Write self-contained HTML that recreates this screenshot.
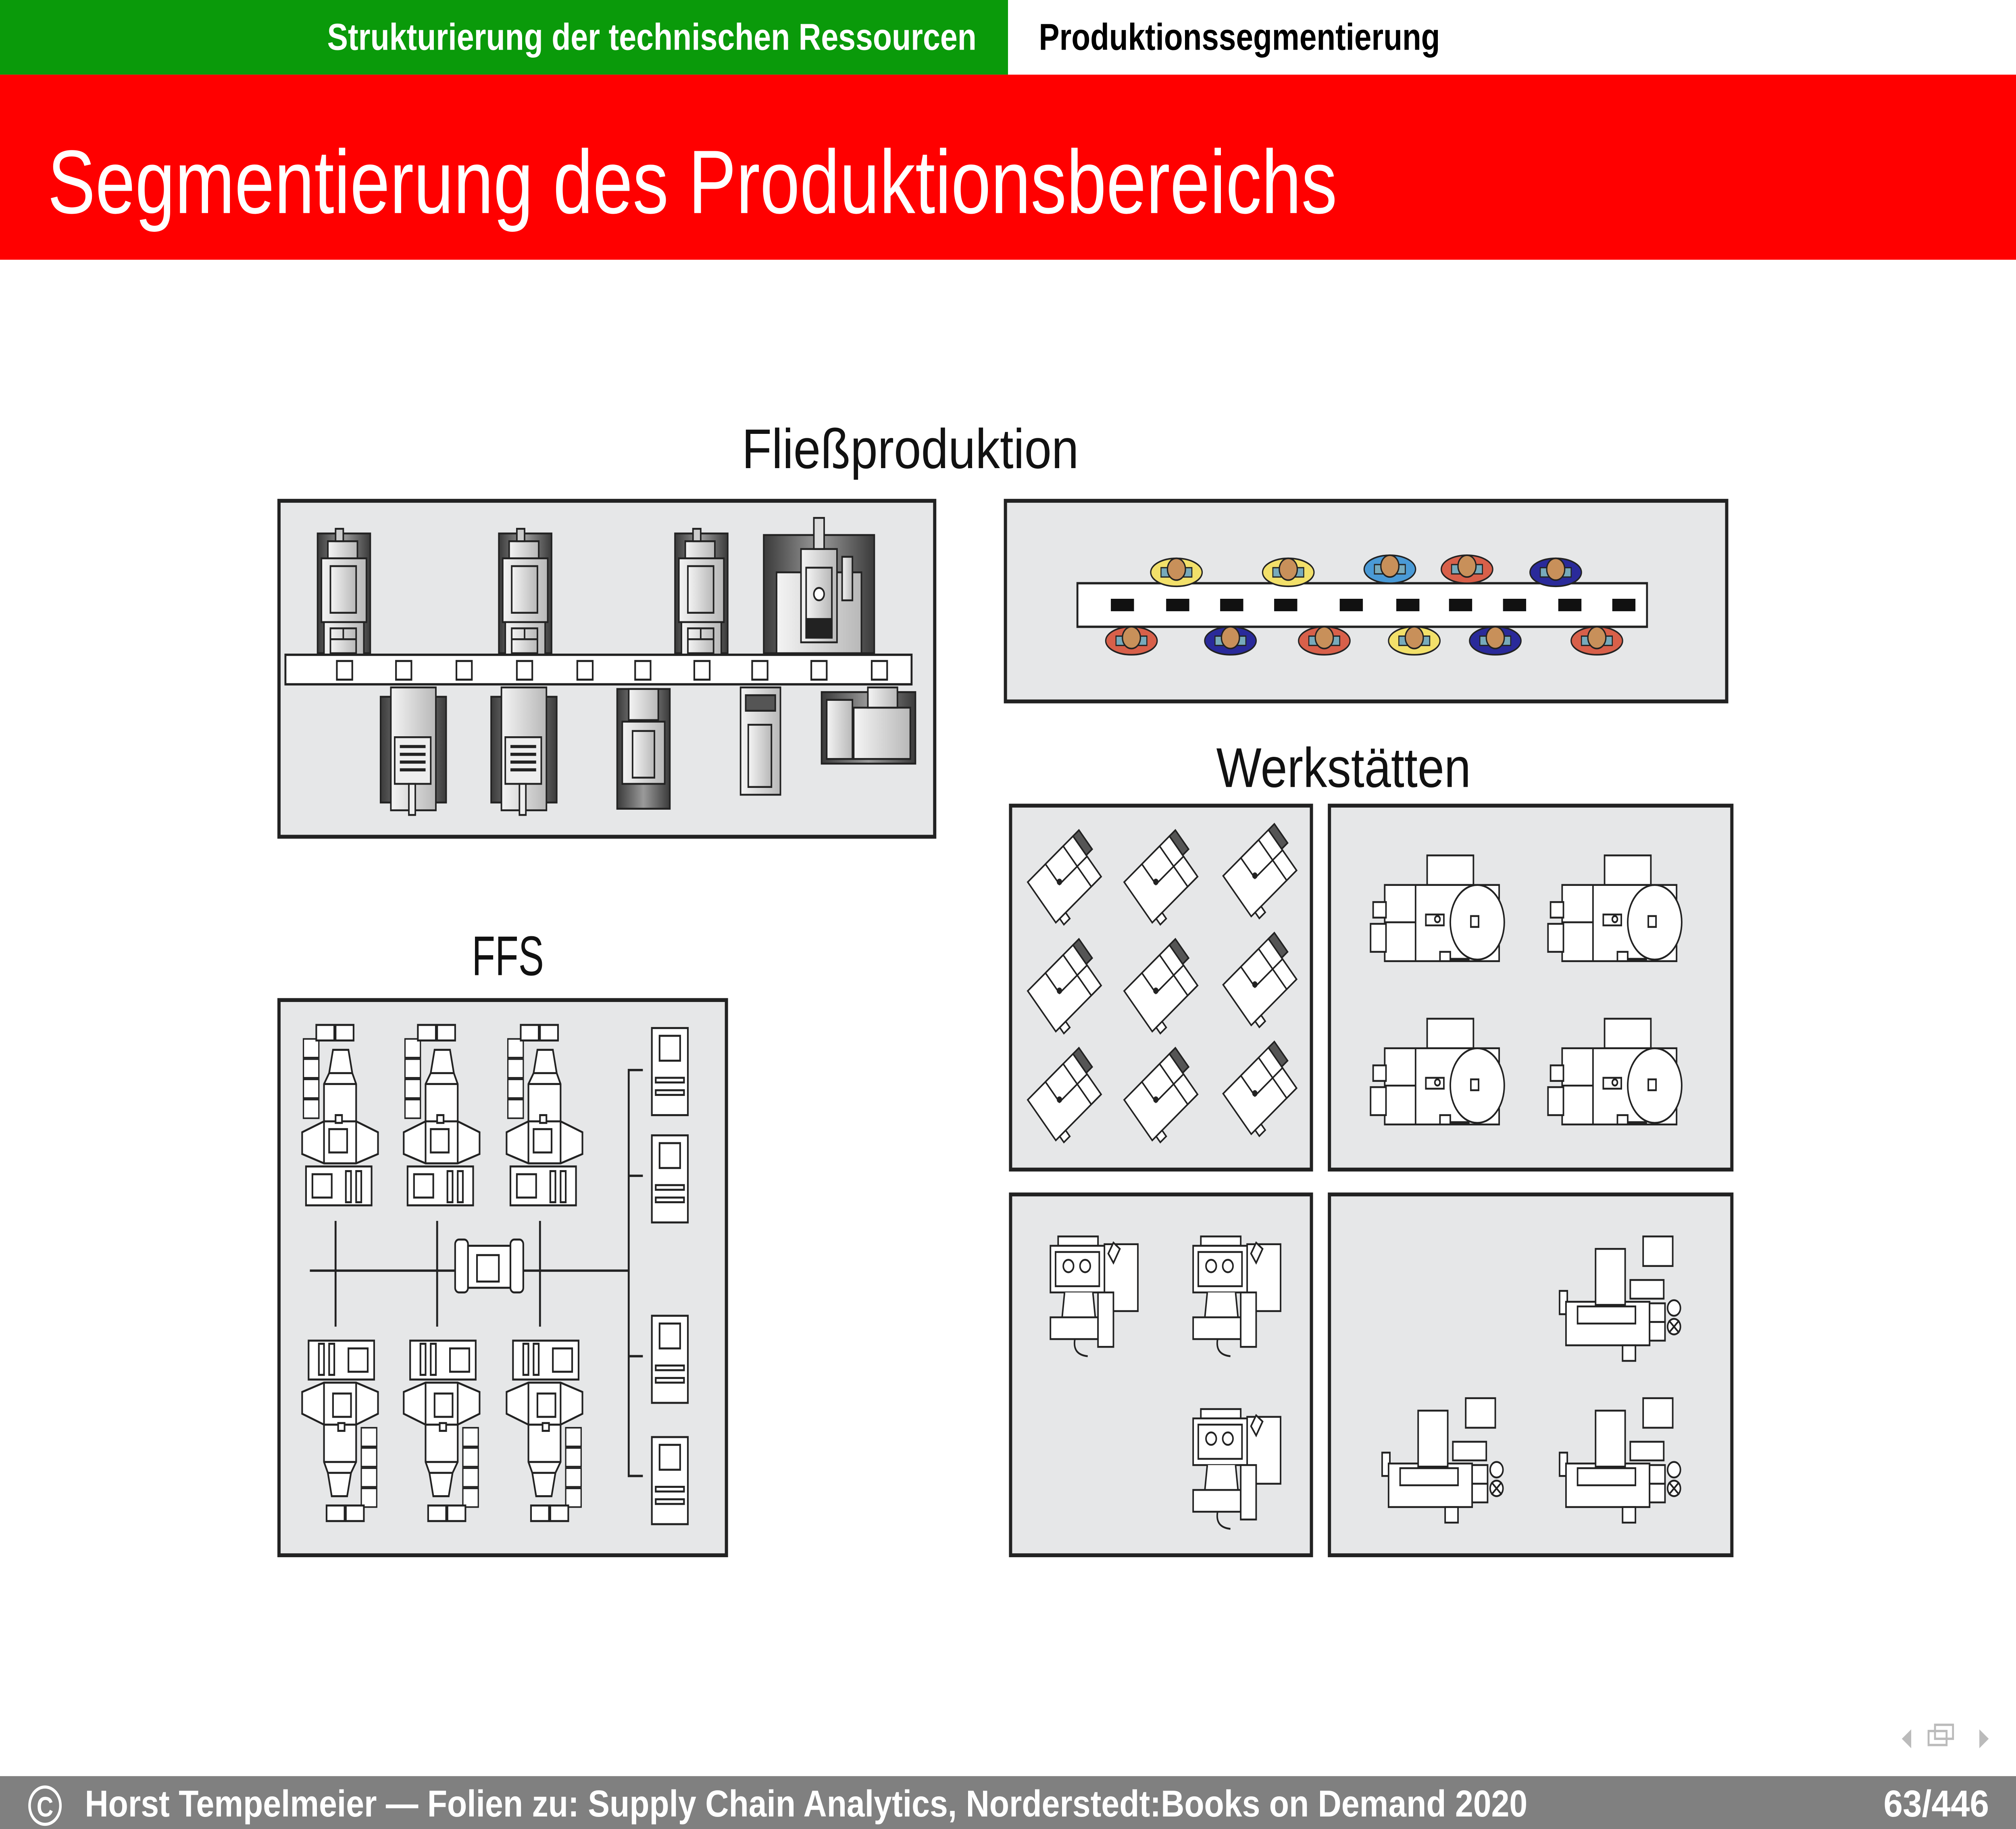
<!DOCTYPE html>
<html><head><meta charset="utf-8"><style>
html,body{margin:0;padding:0;background:#fff;width:100%;height:100%;overflow:hidden;}
svg{display:block;width:100vw;height:100vh;}
</style></head><body>
<svg xmlns="http://www.w3.org/2000/svg" viewBox="0 0 1568 1176" preserveAspectRatio="none" font-family="Liberation Sans, DejaVu Sans, sans-serif">
<defs>
<linearGradient id="dk" x1="0" x2="1" y1="0" y2="0"><stop offset="0" stop-color="#3a3a3a"/><stop offset="0.5" stop-color="#9a9a9a"/><stop offset="1" stop-color="#3a3a3a"/></linearGradient>
<linearGradient id="lt" x1="0" x2="1" y1="0" y2="0"><stop offset="0" stop-color="#f4f4f4"/><stop offset="1" stop-color="#b8b8b8"/></linearGradient>
<g id="topM" stroke="#222" stroke-width="1.2">
 <rect x="0" y="0" width="41" height="77" fill="url(#dk)"/>
 <rect x="8" y="5" width="23" height="11" fill="url(#lt)"/>
 <rect x="14" y="-3" width="6" height="8" fill="#ccc"/>
 <rect x="3" y="16" width="35" height="41" fill="url(#lt)"/>
 <rect x="10" y="21" width="20" height="30" fill="url(#lt)"/>
 <rect x="5" y="57" width="31" height="22" fill="url(#lt)"/>
 <rect x="10" y="61" width="20" height="16" fill="url(#lt)"/>
 <line x1="10" y1="68" x2="30" y2="68"/><line x1="20" y1="61" x2="20" y2="68"/>
</g>
<g id="chainV" fill="#fff" stroke="#222" stroke-width="1">
 <rect x="0" y="0" width="12" height="12"/><rect x="0" y="13" width="12" height="12"/><rect x="0" y="26" width="12" height="12"/><rect x="0" y="39" width="12" height="12"/>
</g>
<g id="ffs" fill="#fff" stroke="#222" stroke-width="1.3">
 <use href="#chainV" x="236" y="668"/>
 <rect x="246" y="659" width="14" height="10"/><rect x="261" y="659" width="14" height="10"/>
 <path d="M256 690 L259 675 L271 675 L274 690 L277 697 L277 721 L252 721 L252 697 Z"/>
 <line x1="252" y1="697" x2="277" y2="697"/><line x1="256" y1="690" x2="274" y2="690"/>
 <path d="M252 721 L277 721 L294 728 L294 742 L277 748 L252 748 L235 742 L235 728 Z"/>
 <line x1="252" y1="721" x2="252" y2="748"/><line x1="277" y1="721" x2="277" y2="748"/>
 <rect x="256" y="726" width="14" height="15"/><rect x="261" y="717" width="5" height="5"/>
 <rect x="238" y="750" width="51" height="25"/>
 <rect x="243" y="755" width="15" height="15"/>
 <rect x="269" y="753" width="4" height="20"/><rect x="277" y="753" width="4" height="20"/>
</g>
<g id="term" fill="#fff" stroke="#222" stroke-width="1.3">
 <rect x="0" y="0" width="28" height="56"/>
 <rect x="6" y="5" width="16" height="16"/>
 <rect x="3" y="32" width="22" height="3"/><rect x="3" y="40" width="22" height="3"/>
</g>
<g id="wA" fill="#fff" stroke="#222" stroke-width="1.1">
 <g transform="rotate(-40)">
  <rect x="-24" y="-16" width="46" height="34"/>
  <rect x="-6" y="-16" width="18" height="17"/>
  <rect x="12" y="1" width="10" height="17"/>
  <rect x="22" y="-16" width="6" height="16" fill="#555"/>
  <rect x="-20" y="18" width="6" height="5"/>
 </g>
 <circle cx="-4" cy="3" r="1.5" fill="#222"/>
</g>
<g id="wB" fill="#fff" stroke="#222" stroke-width="1.2">
 <rect x="1110" y="550" width="36" height="19"/>
 <rect x="1077" y="569" width="89" height="49"/>
 <rect x="1068" y="580" width="10" height="10"/><rect x="1066" y="594" width="12" height="18"/>
 <line x1="1101" y1="569" x2="1101" y2="618"/><line x1="1077" y1="593" x2="1101" y2="593"/>
 <ellipse cx="1149" cy="593" rx="21" ry="24"/>
 <rect x="1109" y="588" width="14" height="7"/><circle cx="1118" cy="591" r="2"/>
 <rect x="1144" y="589" width="6" height="7"/>
 <rect x="1120" y="612" width="8" height="6"/>
 <line x1="1128" y1="617" x2="1143" y2="617" stroke-width="2.2"/>
</g>
<g id="wC" fill="#fff" stroke="#222" stroke-width="1.2">
 <rect x="823" y="795" width="31" height="6"/>
 <rect x="859" y="800" width="26" height="43"/>
 <rect x="817" y="801" width="42" height="30"/>
 <rect x="821" y="805" width="34" height="22"/>
 <circle cx="831" cy="814" r="4"/><circle cx="844" cy="814" r="4"/>
 <path d="M828 831 L826 848 L852 848 L850 831"/>
 <rect x="817" y="847" width="37" height="14"/>
 <rect x="854" y="831" width="12" height="35"/>
 <path d="M862 806 L866 799 L871 803 L866 812 Z"/>
 <path d="M836 861 Q834 871 846 872" fill="none"/>
</g>
<g id="wD" fill="#fff" stroke="#222" stroke-width="1.2">
 <rect x="1278" y="795" width="23" height="19"/>
 <rect x="1268" y="823" width="26" height="12"/>
 <rect x="1213" y="830" width="6" height="15"/>
 <rect x="1218" y="837" width="65" height="28"/>
 <rect x="1227" y="840" width="45" height="11"/>
 <rect x="1241" y="803" width="23" height="36"/>
 <rect x="1283" y="838" width="12" height="12"/><rect x="1283" y="850" width="12" height="12"/>
 <circle cx="1302" cy="841" r="5"/><circle cx="1302" cy="853" r="5"/>
 <path d="M1298 849 L1306 857 M1306 849 L1298 857"/>
 <rect x="1262" y="865" width="10" height="10"/>
</g>
<g id="wk">
 <ellipse cx="0" cy="0" rx="20" ry="9" stroke="#222" stroke-width="1"/>
 <rect x="-12" y="-3" width="24" height="6" fill="#7ab" stroke="#222" stroke-width="0.8"/>
 <circle cx="0" cy="-2" r="7" fill="#c8905a" stroke="#222" stroke-width="1"/>
</g>
</defs>

<!-- header -->
<rect x="0" y="0" width="784" height="48" fill="#0a9a0a"/>
<text x="507" y="32" font-size="24" font-weight="bold" fill="#fff" text-anchor="middle" textLength="505" lengthAdjust="spacingAndGlyphs">Strukturierung der technischen Ressourcen</text>
<text x="808" y="32" font-size="24" font-weight="bold" fill="#000" textLength="312" lengthAdjust="spacingAndGlyphs">Produktionssegmentierung</text>
<rect x="0" y="48" width="1568" height="119" fill="#ff0000"/>
<text x="37" y="137" font-size="58" fill="#fff" textLength="1003" lengthAdjust="spacingAndGlyphs">Segmentierung des Produktionsbereichs</text>

<!-- labels -->
<text x="708" y="301" font-size="36" fill="#111" text-anchor="middle" textLength="262" lengthAdjust="spacingAndGlyphs">Fließproduktion</text>
<text x="1045" y="506" font-size="36" fill="#111" text-anchor="middle" textLength="198" lengthAdjust="spacingAndGlyphs">Werkstätten</text>
<text x="395" y="627" font-size="36" fill="#111" text-anchor="middle" textLength="56" lengthAdjust="spacingAndGlyphs">FFS</text>

<!-- Box 1 -->
<rect x="217" y="322" width="510" height="216" fill="#e6e7e8" stroke="#222" stroke-width="2.5"/>
<use href="#topM" x="247" y="343"/>
<use href="#topM" x="388" y="343"/>
<use href="#topM" x="525" y="343"/>
<g stroke="#222" stroke-width="1.2">
 <rect x="594" y="344" width="86" height="76" fill="url(#dk)"/>
 <rect x="604" y="368" width="66" height="52" fill="url(#lt)"/>
 <rect x="623" y="353" width="28" height="60" fill="url(#lt)"/>
 <rect x="627" y="365" width="20" height="45" fill="url(#lt)"/>
 <rect x="633" y="333" width="8" height="20" fill="#ddd"/>
 <rect x="627" y="398" width="20" height="12" fill="#222"/>
 <circle cx="637" cy="382" r="4" fill="#fff"/>
 <rect x="655" y="358" width="8" height="28" fill="url(#lt)"/>
</g>
<rect x="222" y="421" width="487" height="19" fill="#fff" stroke="#222" stroke-width="1.5"/>
<g fill="#fff" stroke="#222" stroke-width="1.3">
 <rect x="262" y="425" width="12" height="12"/><rect x="308" y="425" width="12" height="12"/><rect x="355" y="425" width="12" height="12"/><rect x="402" y="425" width="12" height="12"/><rect x="449" y="425" width="12" height="12"/><rect x="494" y="425" width="12" height="12"/><rect x="540" y="425" width="12" height="12"/><rect x="585" y="425" width="12" height="12"/><rect x="631" y="425" width="12" height="12"/><rect x="678" y="425" width="12" height="12"/>
</g>
<g stroke="#222" stroke-width="1.2">
 <rect x="296" y="448" width="51" height="68" fill="url(#dk)"/>
 <rect x="304" y="442" width="35" height="79" fill="url(#lt)"/>
 <rect x="307" y="474" width="28" height="30" fill="#eee"/>
 <g stroke-width="2"><line x1="311" y1="480" x2="331" y2="480"/><line x1="311" y1="485" x2="331" y2="485"/><line x1="311" y1="490" x2="331" y2="490"/><line x1="311" y1="495" x2="331" y2="495"/></g>
 <rect x="318" y="504" width="5" height="20" fill="#eee"/>
 <rect x="382" y="448" width="51" height="68" fill="url(#dk)"/>
 <rect x="390" y="442" width="35" height="79" fill="url(#lt)"/>
 <rect x="393" y="474" width="28" height="30" fill="#eee"/>
 <g stroke-width="2"><line x1="397" y1="480" x2="417" y2="480"/><line x1="397" y1="485" x2="417" y2="485"/><line x1="397" y1="490" x2="417" y2="490"/><line x1="397" y1="495" x2="417" y2="495"/></g>
 <rect x="404" y="504" width="5" height="20" fill="#eee"/>
 <rect x="480" y="443" width="41" height="77" fill="url(#dk)"/>
 <rect x="484" y="464" width="33" height="40" fill="url(#lt)"/>
 <rect x="492" y="470" width="17" height="30" fill="url(#lt)"/>
 <rect x="489" y="443" width="23" height="20" fill="url(#lt)"/>
 <rect x="576" y="442" width="31" height="69" fill="url(#lt)"/>
 <rect x="580" y="447" width="23" height="10" fill="#555"/>
 <rect x="582" y="466" width="18" height="40" fill="url(#lt)"/>
 <rect x="639" y="445" width="73" height="46" fill="url(#dk)"/>
 <rect x="643" y="450" width="20" height="38" fill="url(#lt)"/>
 <rect x="664" y="455" width="44" height="33" fill="url(#lt)"/>
 <rect x="675" y="442" width="23" height="13" fill="url(#lt)"/>
</g>

<!-- Box 2 -->
<rect x="782" y="322" width="561" height="129" fill="#e6e7e8" stroke="#222" stroke-width="2.5"/>
<rect x="838" y="375" width="443" height="28" fill="#fff" stroke="#222" stroke-width="1.5"/>
<g fill="#111">
 <rect x="864" y="385" width="18" height="8"/><rect x="907" y="385" width="18" height="8"/><rect x="949" y="385" width="18" height="8"/><rect x="991" y="385" width="18" height="8"/><rect x="1042" y="385" width="18" height="8"/><rect x="1086" y="385" width="18" height="8"/><rect x="1127" y="385" width="18" height="8"/><rect x="1169" y="385" width="18" height="8"/><rect x="1212" y="385" width="18" height="8"/><rect x="1254" y="385" width="18" height="8"/>
</g>
<use href="#wk" x="915" y="368" fill="#f2e06a"/>
<use href="#wk" x="1002" y="368" fill="#f2e06a"/>
<use href="#wk" x="1081" y="366" fill="#4a9ad6"/>
<use href="#wk" x="1141" y="366" fill="#d8604a"/>
<use href="#wk" x="1210" y="368" fill="#2a2a9a"/>
<use href="#wk" x="880" y="412" fill="#d8604a"/>
<use href="#wk" x="957" y="412" fill="#2a2a9a"/>
<use href="#wk" x="1030" y="412" fill="#d8604a"/>
<use href="#wk" x="1100" y="412" fill="#f2e06a"/>
<use href="#wk" x="1163" y="412" fill="#2a2a9a"/>
<use href="#wk" x="1242" y="412" fill="#d8604a"/>

<!-- Werkstätten boxes -->
<rect x="786" y="518" width="234" height="234" fill="#e6e7e8" stroke="#222" stroke-width="2.5"/>
<rect x="1034" y="518" width="313" height="234" fill="#e6e7e8" stroke="#222" stroke-width="2.5"/>
<rect x="786" y="768" width="234" height="232" fill="#e6e7e8" stroke="#222" stroke-width="2.5"/>
<rect x="1034" y="768" width="313" height="232" fill="#e6e7e8" stroke="#222" stroke-width="2.5"/>
<use href="#wA" x="828" y="564"/><use href="#wA" x="903" y="564"/><use href="#wA" x="980" y="560"/>
<use href="#wA" x="828" y="634"/><use href="#wA" x="903" y="634"/><use href="#wA" x="980" y="630"/>
<use href="#wA" x="828" y="704"/><use href="#wA" x="903" y="704"/><use href="#wA" x="980" y="700"/>
<use href="#wB"/><use href="#wB" x="138"/><use href="#wB" y="105"/><use href="#wB" x="138" y="105"/>
<use href="#wC"/><use href="#wC" x="111"/><use href="#wC" x="111" y="111"/>
<use href="#wD"/><use href="#wD" x="-138" y="104"/><use href="#wD" y="104"/>

<!-- FFS -->
<rect x="217" y="643" width="348" height="357" fill="#e6e7e8" stroke="#222" stroke-width="2.5"/>
<g stroke="#222" stroke-width="1.5" fill="none">
 <line x1="241" y1="817" x2="489" y2="817"/>
 <line x1="261" y1="785" x2="261" y2="853"/>
 <line x1="340" y1="785" x2="340" y2="853"/>
 <line x1="420" y1="785" x2="420" y2="853"/>
 <path d="M500 688 L489 688 L489 949 L500 949 M489 756 L500 756 M489 872 L500 872"/>
</g>
<g fill="#fff" stroke="#222" stroke-width="1.3">
 <rect x="354" y="797" width="10" height="34" rx="3"/><rect x="397" y="797" width="10" height="34" rx="3"/>
 <rect x="364" y="801" width="33" height="27"/><rect x="371" y="807" width="17" height="17"/>
</g>
<use href="#ffs"/><use href="#ffs" x="79"/><use href="#ffs" x="159"/>
<g transform="rotate(180 264.5 818.5)"><use href="#ffs"/></g>
<g transform="translate(79 0) rotate(180 264.5 818.5)"><use href="#ffs"/></g>
<g transform="translate(159 0) rotate(180 264.5 818.5)"><use href="#ffs"/></g>
<use href="#term" x="507" y="661"/><use href="#term" x="507" y="730"/><use href="#term" x="507" y="846"/><use href="#term" x="507" y="924"/>

<!-- nav icons -->
<g fill="#bbb" stroke="#bbb">
 <path d="M1486 1113 L1480 1118 L1486 1123 Z"/>
 <rect x="1500" y="1113" width="14" height="9" fill="none" stroke-width="1.5"/>
 <rect x="1505" y="1109" width="14" height="9" fill="none" stroke-width="1.5"/>
 <path d="M1540 1113 L1546 1118 L1540 1123 Z"/>
</g>

<!-- footer -->
<rect x="0" y="1142" width="1568" height="34" fill="#808080"/>
<circle cx="35" cy="1161" r="12" fill="none" stroke="#fff" stroke-width="2"/>
<text x="35" y="1168" font-size="18" fill="#fff" text-anchor="middle" font-weight="bold">C</text>
<text x="66" y="1168" font-size="24" font-weight="bold" fill="#fff" textLength="1122" lengthAdjust="spacingAndGlyphs">Horst Tempelmeier — Folien zu: Supply Chain Analytics, Norderstedt:Books on Demand 2020</text>
<text x="1547" y="1168" font-size="24" font-weight="bold" fill="#fff" text-anchor="end" textLength="82" lengthAdjust="spacingAndGlyphs">63/446</text>
</svg>
</body></html>
